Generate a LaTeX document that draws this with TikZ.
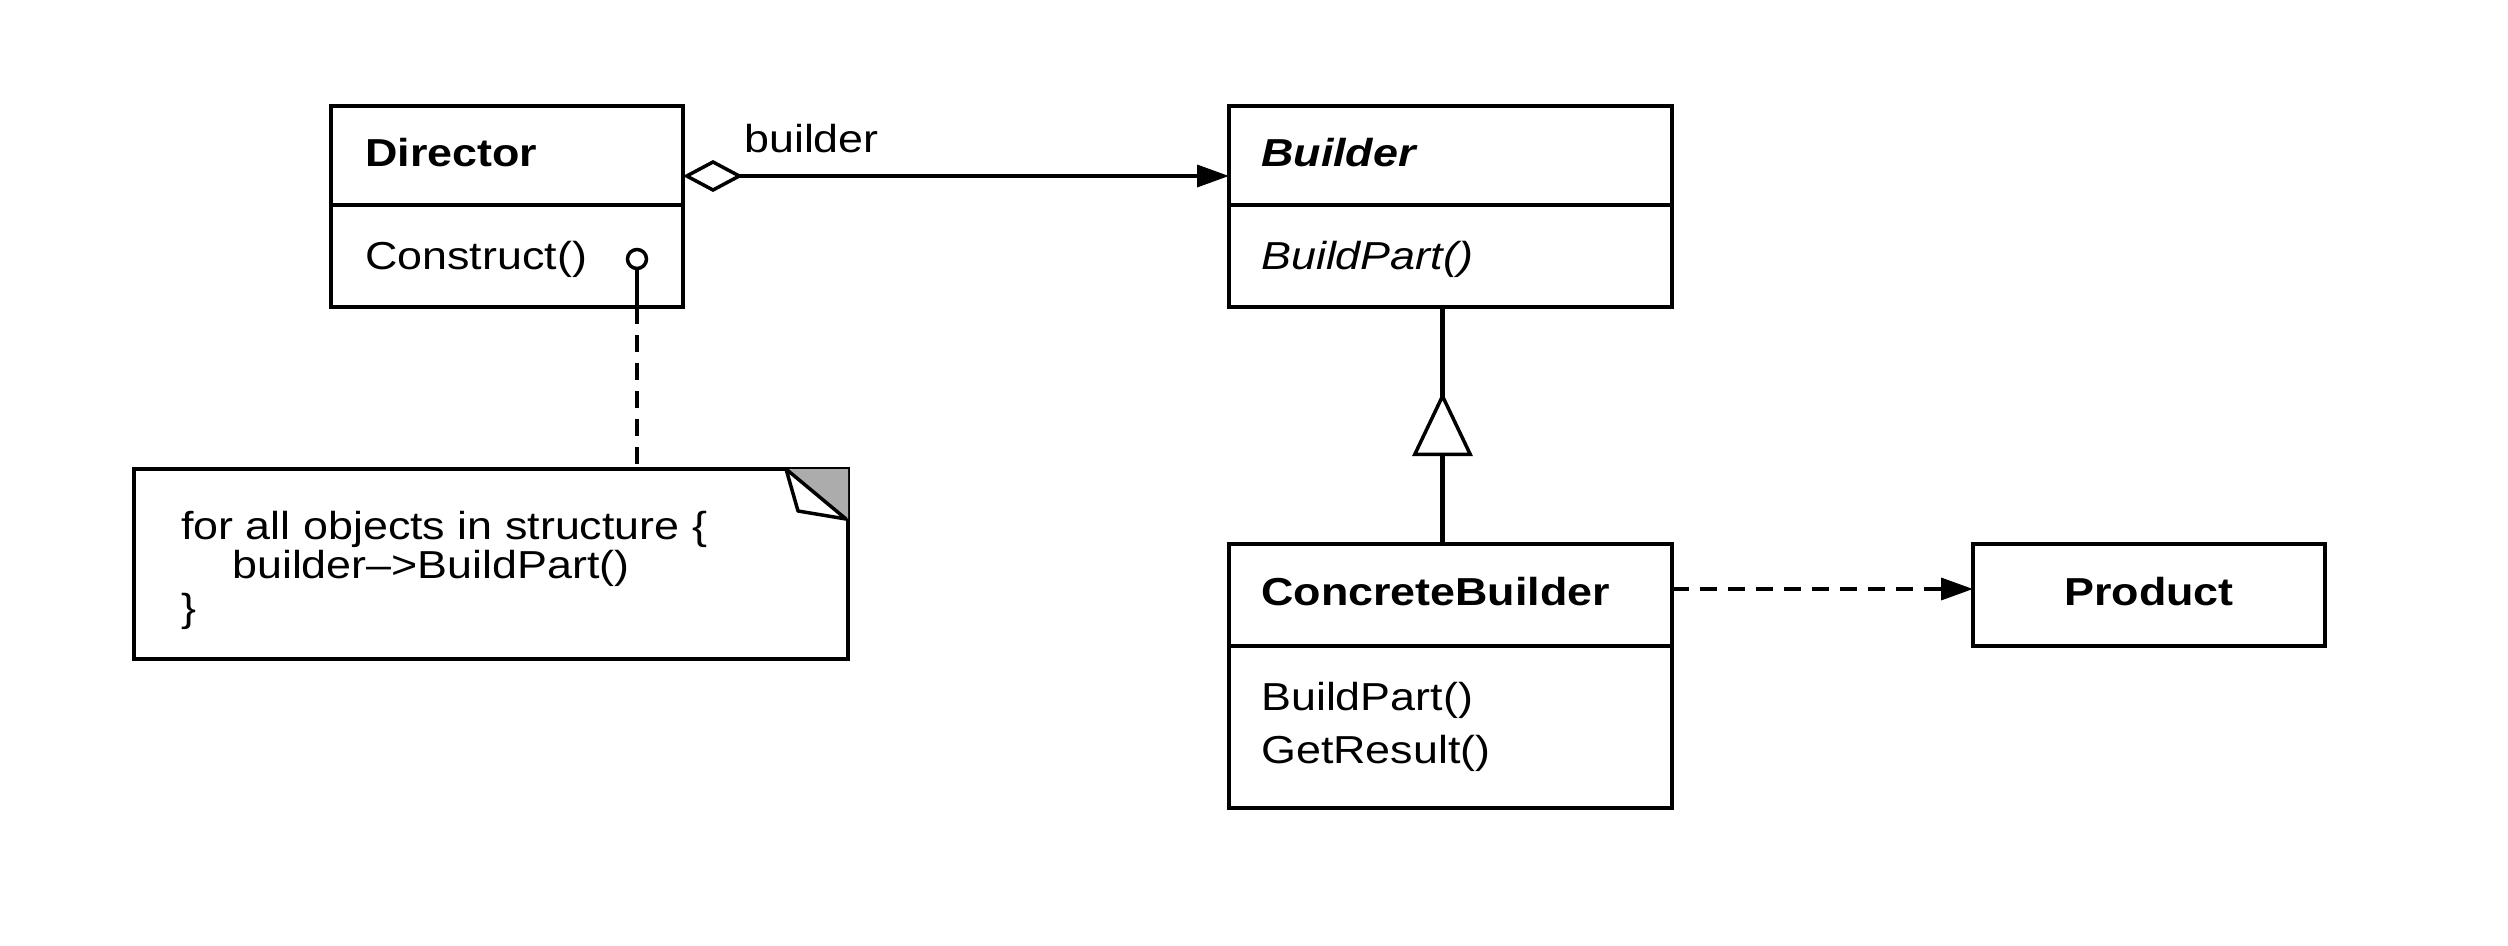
\documentclass[tikz,border=0pt]{standalone}
\usepackage{fontspec}
\setmainfont{Liberation Sans}[FakeStretch=1.15]
\usetikzlibrary{arrows.meta,decorations.markings,calc}
\begin{document}
\begin{tikzpicture}[x=1pt,y=-1pt,
  box/.style={draw,line width=4.5pt,inner sep=0pt,outer sep=0pt,anchor=north west},
  divider/.style={line width=3.5pt},
  txt/.style={anchor=base west,inner sep=0pt,font=\fontsize{39}{44}\selectfont},
  txtb/.style={txt,font=\fontsize{39}{44}\selectfont\bfseries},
  txtbi/.style={txt,font=\fontsize{39}{44}\selectfont\bfseries\itshape},
  txti/.style={txt,font=\fontsize{39}{44}\selectfont\itshape},
  conn/.style={line width=3.5pt},
  dashconn/.style={line width=3.5pt,dash pattern=on 17pt off 11pt},
  filledtip/.style={-{Triangle[length=32pt,width=22pt]}},
]
\useasboundingbox (0,0) rectangle (2508,945);
\fill[white] (0,0) rectangle (2508,945);

% Director
\node[box,minimum width=352pt,minimum height=201pt] (director) at (331,106) {};
\draw[divider] ([yshift=-99pt]director.north west) -- ([yshift=-99pt]director.north east);
\node[txtb] (directorname) at (365,166) {Director};
\node[txt] (construct) at (365,269) {Construct()};
\node[draw,circle,line width=3.5pt,minimum size=19pt,inner sep=0pt] (hook) at (637,259) {};

% Builder
\node[box,minimum width=443pt,minimum height=201pt] (builder) at (1229,106) {};
\draw[divider] ([yshift=-99pt]builder.north west) -- ([yshift=-99pt]builder.north east);
\node[txtbi] (buildername) at (1261,166) {Builder};
\node[txti] (buildpartA) at (1261,269) {BuildPart()};

% ConcreteBuilder
\node[box,minimum width=443pt,minimum height=264pt] (cb) at (1229,544) {};
\draw[divider] ([yshift=-102pt]cb.north west) -- ([yshift=-102pt]cb.north east);
\node[txtb] (cbname) at (1261,605) {ConcreteBuilder};
\node[txt] (buildpartB) at (1261,710) {BuildPart()};
\node[txt] (getresult) at (1261,763) {GetResult()};

% Product
\node[box,minimum width=352pt,minimum height=102pt] (product) at (1973,544) {};
\node[txtb,anchor=base] (productname) at (2149,605) {Product};

% Note
\node[box,minimum width=714pt,minimum height=190pt] (note) at (134,469) {};
\fill[gray!65] ([xshift=-62pt]note.north east) -- (note.north east) -- ([yshift=-50pt]note.north east) -- cycle;
\draw[line width=3.5pt,fill=white,line join=round] ([xshift=-62pt]note.north east) -- ([xshift=-50pt,yshift=-42pt]note.north east) -- ([xshift=-2pt,yshift=-50pt]note.north east) -- cycle;
\node[txt] (noteA) at (181,539) {for all objects in structure \{};
\node[txt] (noteB) at (232,578) {builder\textendash{}>BuildPart()};
\node[txt] (noteC) at (181,621) {\}};

% Connectors
\draw[conn,{Diamond[open,fill=white,length=60pt,width=32pt]}-{Triangle[length=32pt,width=22pt]}]
  ([yshift=-70pt]director.north east) -- ([yshift=-70pt]builder.north west);
\node[txt] (rolelabel) at (744,152) {builder};

\draw[line width=4.5pt,postaction={decorate},
  decoration={markings,mark=at position 152pt with {\arrow[line width=3.5pt]{Triangle[fill=white,length=64pt,width=60pt]}}}]
  ([xshift=-8pt]cb.north) -- ([xshift=-8pt]builder.south);

\draw[dashconn,filledtip] ([yshift=-45pt]cb.north east) -- ([yshift=-45pt]product.north west);

\draw[conn] (hook.south) -- (hook.south |- director.south);
\draw[dashconn] (hook.south |- director.south) -- (hook.south |- note.north);
\end{tikzpicture}
\end{document}
